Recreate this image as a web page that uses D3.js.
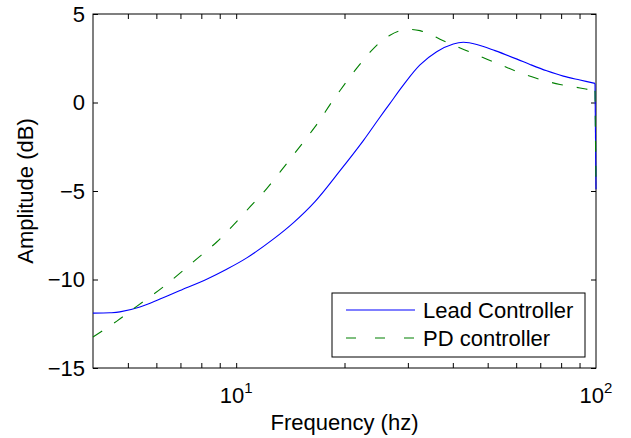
<!DOCTYPE html>
<html>
<head>
<meta charset="utf-8">
<script src="https://cdn.jsdelivr.net/npm/d3@7"></script>
<style>
  body { margin: 0; background: #fff; }
  svg { display: block; font-family: "Liberation Sans", Arial, Helvetica, sans-serif; }
</style>
</head>
<body>
<svg width="631" height="438"></svg>
<script>
'use strict'

// frequency (hz) and amplitude (dB)
const leadFreq = [4.0, 4.46, 4.75, 5.4, 6.14, 6.98, 8.28, 9.41, 10.7, 12.68, 14.41, 16.56, 19.44, 22.56, 24.83, 26.76, 29.14, 32.42, 36.08, 40.13, 42.78, 46.62, 52.4, 60.33, 65.56, 72.96, 81.12, 90.27, 99.36]
const leadAmp = [-11.9, -11.88, -11.83, -11.55, -11.1, -10.62, -9.98, -9.42, -8.78, -7.72, -6.8, -5.6, -3.85, -2.15, -0.96, -0.05, 0.98, 2.12, 2.87, 3.3, 3.4, 3.28, 2.93, 2.45, 2.15, 1.79, 1.49, 1.27, 1.08]

const pdFreq = [4.0, 4.66, 5.29, 6.27, 7.6, 8.83, 9.82, 10.92, 12.16, 14.41, 16.04, 17.1, 18.23, 19.44, 20.72, 22.09, 23.55, 25.1, 26.76, 28.53, 30.41, 32.42, 34.56, 36.85, 40.05, 44.65, 49.78, 55.16, 61.5, 69.91, 79.43, 90.27, 99.36]
const pdAmp = [-13.25, -12.35, -11.52, -10.42, -9.0, -7.88, -6.93, -5.9, -4.86, -2.97, -1.75, -0.98, -0.12, 0.68, 1.45, 2.17, 2.84, 3.4, 3.8, 4.05, 4.13, 4.06, 3.85, 3.58, 3.25, 2.85, 2.45, 2.07, 1.68, 1.3, 1.02, 0.82, 0.66]

// both curves fall away at the last sample (100 hz)
const endFreq = 100
const endAmp = [-4.9, -4.9]

const seriesNames = ['Lead Controller', 'PD controller']
const xMajor = [10, 100]
const xMinor = [5, 6, 7, 8, 9, 10, 20, 30, 40, 50, 60, 70, 80, 90]
const yTicks = [5, 0, -5, -10, -15]

const plotL = 93
const plotR = 596
const plotT = 14
const plotB = 368
const fontSize = 22

const svg = d3.select('svg')
const x = d3.scaleLog().domain([4, 100]).range([plotL, plotR])
const y = d3.scaleLinear().domain([-15, 5]).range([plotB, plotT])

const tickLen = 5
const axisStyle = (g) => {
  g.select('.domain').remove()
  g.selectAll('.tick line').attr('stroke', '#000').attr('stroke-width', 1)
}

svg.append('g').attr('transform', `translate(0,${plotB})`)
  .call(d3.axisBottom(x).tickValues(xMinor).tickSize(-tickLen).tickFormat(''))
  .call(axisStyle)
svg.append('g').attr('transform', `translate(0,${plotT})`)
  .call(d3.axisTop(x).tickValues(xMinor).tickSize(-tickLen).tickFormat(''))
  .call(axisStyle)
svg.append('g').attr('transform', `translate(${plotL},0)`)
  .call(d3.axisLeft(y).tickValues(yTicks).tickSize(-tickLen).tickFormat(''))
  .call(axisStyle)
svg.append('g').attr('transform', `translate(${plotR},0)`)
  .call(d3.axisRight(y).tickValues(yTicks).tickSize(-tickLen).tickFormat(''))
  .call(axisStyle)

svg.append('rect')
  .attr('x', plotL).attr('y', plotT)
  .attr('width', plotR - plotL).attr('height', plotB - plotT)
  .attr('fill', 'none').attr('stroke', '#000').attr('stroke-width', 1)

// y tick labels
svg.append('g').selectAll('text')
  .data(yTicks)
  .enter().append('text')
  .attr('x', plotL - 8)
  .attr('y', (d) => y(d))
  .attr('dy', '0.36em')
  .attr('text-anchor', 'end')
  .attr('font-size', fontSize)
  .text((d) => d < 0 ? '\u2212' + Math.abs(d) : d)

// x tick labels 10^n
const xl = svg.append('g').selectAll('text')
  .data(xMajor)
  .enter().append('text')
  .attr('x', (d) => x(d))
  .attr('y', 403)
  .attr('text-anchor', 'middle')
  .attr('font-size', fontSize)
xl.append('tspan').text('10')
xl.append('tspan').attr('font-size', 15).attr('dy', -10)
  .text((d) => Math.round(Math.log10(d)))

svg.append('text')
  .attr('x', (plotL + plotR) / 2).attr('y', 430)
  .attr('text-anchor', 'middle')
  .attr('font-size', fontSize)
  .text('Frequency (hz)')

svg.append('text')
  .attr('transform', `translate(33,${(plotT + plotB) / 2}) rotate(-90)`)
  .attr('text-anchor', 'middle')
  .attr('font-size', fontSize)
  .text('Amplitude (dB)')

const line = d3.line()
  .x((d) => x(d[0]))
  .y((d) => y(d[1]))
  .curve(d3.curveCatmullRom.alpha(0.5))

const dropLine = d3.line()
  .x((d) => x(d[0]))
  .y((d) => y(d[1]))

const styles = [
  { color: '#0000ff', dash: null },
  { color: '#008000', dash: '11,14' }
]

const series = [
  d3.zip(leadFreq, leadAmp),
  d3.zip(pdFreq, pdAmp)
]

series.forEach((s, i) => {
  const last = s[s.length - 1]
  const drop = [last, [endFreq, endAmp[i]]]
  ;[line(s), dropLine(drop)].forEach((d) => {
    svg.append('path')
      .attr('d', d)
      .attr('fill', 'none')
      .attr('stroke', styles[i].color)
      .attr('stroke-width', 1.1)
      .attr('stroke-dasharray', styles[i].dash)
  })
})

// legend
const lg = svg.append('g')
lg.append('rect')
  .attr('x', 332).attr('y', 293)
  .attr('width', 253).attr('height', 64)
  .attr('fill', '#fff').attr('stroke', '#000').attr('stroke-width', 1)

seriesNames.forEach((name, i) => {
  const cy = 310 + i * 28
  lg.append('line')
    .attr('x1', 346).attr('x2', 415)
    .attr('y1', cy).attr('y2', cy)
    .attr('stroke', styles[i].color)
    .attr('stroke-width', 1.1)
    .attr('stroke-dasharray', i ? '10,19' : null)
  lg.append('text')
    .attr('x', 423).attr('y', cy)
    .attr('dy', '0.36em')
    .attr('font-size', fontSize)
    .text(name)
})
</script>
</body>
</html>
